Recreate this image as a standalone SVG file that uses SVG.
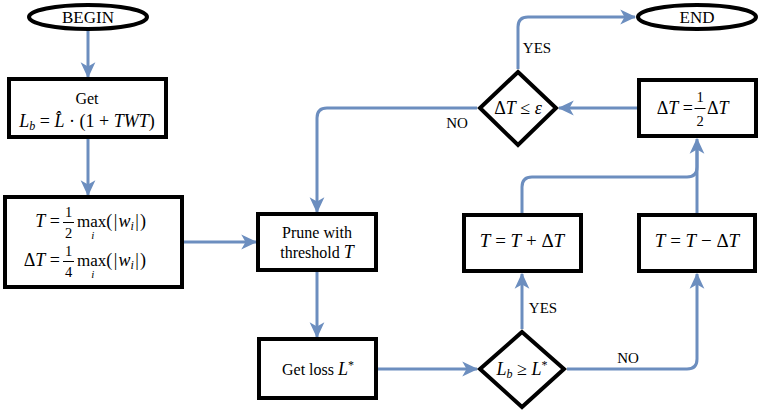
<svg xmlns="http://www.w3.org/2000/svg" width="760" height="411" viewBox="0 0 760 411">
<style>
.n{fill:#fff;stroke:#000;stroke-width:4}
.e{fill:none;stroke:#6c8ebf;stroke-width:3}
.ea{fill:none;stroke:#6c8ebf;stroke-width:3;marker-end:url(#arr)}
text{font-family:"Liberation Serif","Times New Roman",serif;fill:#000}
.t{font-size:16px}
.l{font-size:15px}
.m{font-size:18px}
.i{font-style:italic}
.s{font-size:12px}
.u{font-size:11px;font-style:italic}
.f{font-size:14.5px}
.bar{stroke:#000;stroke-width:1}
</style>
<defs>
<marker id="arr" markerUnits="userSpaceOnUse" markerWidth="16" markerHeight="16" viewBox="0 0 13 13" refX="12" refY="6.5" orient="auto">
<path d="M0,0.5 L13,6.5 L0,12.5 L3.5,6.5 z" fill="#6c8ebf"/>
</marker>
</defs>
<g id="connectors">
<path class="ea" d="M88,31 L88,77"/>
<path class="ea" d="M88,139 L88,195"/>
<path class="ea" d="M184,242 L256,242"/>
<path class="ea" d="M477,108 L327,108 Q317,108 317,118 L317,212"/>
<path class="ea" d="M317,272 L317,337"/>
<path class="ea" d="M378,369 L477,369"/>
<path class="ea" d="M522,329 L522,274"/>
<path class="ea" d="M567,369 L687,369 Q697,369 697,359 L697,274"/>
<path class="e" d="M522,213 L522,187 Q522,177 532,177 L687,177 Q697,177 697,167 L697,150"/>
<path class="ea" d="M697,213 L697,139"/>
<path class="ea" d="M637,108 L559,108"/>
<path class="ea" d="M518,69 L518,27 Q518,17 528,17 L635,17"/>
<text class="l" x="537" y="53" text-anchor="middle">YES</text>
<text class="l" x="457" y="128" text-anchor="middle">NO</text>
<text class="l" x="543" y="313" text-anchor="middle">YES</text>
<text class="l" x="628" y="363" text-anchor="middle">NO</text>
</g>
<g id="begin">
<ellipse class="n" cx="88" cy="17" rx="59" ry="12"/>
<text class="t" x="88" y="23" text-anchor="middle" style="font-size:17px">BEGIN</text>
</g>
<g id="end">
<ellipse class="n" cx="697" cy="17" rx="59" ry="12"/>
<text class="t" x="697" y="23" text-anchor="middle" style="font-size:17px">END</text>
</g>
<g id="get">
<rect class="n" x="9" y="79" width="157" height="58"/>
<text class="t" x="87" y="104" text-anchor="middle">Get</text>
<text class="m" x="87" y="127" text-anchor="middle"><tspan class="i">L</tspan><tspan class="s i" dy="3">b</tspan><tspan dy="-3"> = </tspan><tspan class="i">L̂</tspan><tspan> · (1 + </tspan><tspan class="i">TWT</tspan><tspan>)</tspan></text>
</g>
<g id="init">
<rect class="n" x="5" y="197" width="177" height="90"/>
<text class="m" x="60" y="227" text-anchor="end"><tspan class="i">T</tspan> =</text>
<text class="f" x="68.5" y="217" text-anchor="middle">1</text>
<line class="bar" x1="63" y1="222.5" x2="74" y2="222.5"/>
<text class="f" x="68.5" y="238" text-anchor="middle">2</text>
<text class="m" x="77" y="227"><tspan style="font-size:17px">max</tspan><tspan class="u" dx="-15" dy="12">i</tspan><tspan dx="12" dy="-12">(</tspan><tspan dx="1.5">|</tspan><tspan class="i" dx="1">w</tspan><tspan class="s i" dy="3">i</tspan><tspan dy="-3" dx="1.5">|</tspan><tspan dx="1">)</tspan></text>
<text class="m" x="60" y="266" text-anchor="end">Δ<tspan class="i">T</tspan> =</text>
<text class="f" x="68.5" y="256" text-anchor="middle">1</text>
<line class="bar" x1="63" y1="261.5" x2="74" y2="261.5"/>
<text class="f" x="68.5" y="277" text-anchor="middle">4</text>
<text class="m" x="77" y="266"><tspan style="font-size:17px">max</tspan><tspan class="u" dx="-15" dy="12">i</tspan><tspan dx="12" dy="-12">(</tspan><tspan dx="1.5">|</tspan><tspan class="i" dx="1">w</tspan><tspan class="s i" dy="3">i</tspan><tspan dy="-3" dx="1.5">|</tspan><tspan dx="1">)</tspan></text>
</g>
<g id="prune">
<rect class="n" x="258" y="214" width="118" height="56"/>
<text class="t" x="317" y="238" text-anchor="middle">Prune with</text>
<text class="t" x="317" y="258" text-anchor="middle">threshold <tspan class="i" style="font-size:18px">T</tspan></text>
</g>
<g id="getloss">
<rect class="n" x="259" y="339" width="117" height="59"/>
<text class="t" x="318" y="375" text-anchor="middle">Get loss <tspan class="i" style="font-size:18px">L</tspan><tspan class="s" dy="-6">*</tspan></text>
</g>
<g id="cmp">
<polygon class="n" points="522,332 564,369 522,407 480,369"/>
<text class="m" x="522" y="375" text-anchor="middle"><tspan class="i">L</tspan><tspan class="s i" dy="3">b</tspan><tspan dy="-3"> ≥ </tspan><tspan class="i">L</tspan><tspan class="s" dy="-6">*</tspan></text>
</g>
<g id="inc">
<rect class="n" x="464" y="215" width="117" height="56"/>
<text class="m" x="522" y="247" text-anchor="middle" style="font-size:19px"><tspan class="i">T</tspan> = <tspan class="i">T</tspan> + Δ<tspan class="i">T</tspan></text>
</g>
<g id="dec">
<rect class="n" x="639" y="215" width="116" height="56"/>
<text class="m" x="697" y="247" text-anchor="middle" style="font-size:19px"><tspan class="i">T</tspan> = <tspan class="i">T</tspan> − Δ<tspan class="i">T</tspan></text>
</g>
<g id="half">
<rect class="n" x="639" y="80" width="117" height="56"/>
<text class="m" x="693" y="114" text-anchor="end">Δ<tspan class="i">T</tspan> =</text>
<text class="f" x="700" y="102" text-anchor="middle">1</text>
<line class="bar" x1="694.5" y1="108.5" x2="705.5" y2="108.5"/>
<text class="f" x="700" y="126" text-anchor="middle">2</text>
<text class="m" x="707" y="114">Δ<tspan class="i">T</tspan></text>
</g>
<g id="check">
<polygon class="n" points="518,72 556,108 518,145 480,108"/>
<text class="m" x="518" y="114" text-anchor="middle">Δ<tspan class="i">T</tspan> ≤ <tspan class="i">ε</tspan></text>
</g>
</svg>
